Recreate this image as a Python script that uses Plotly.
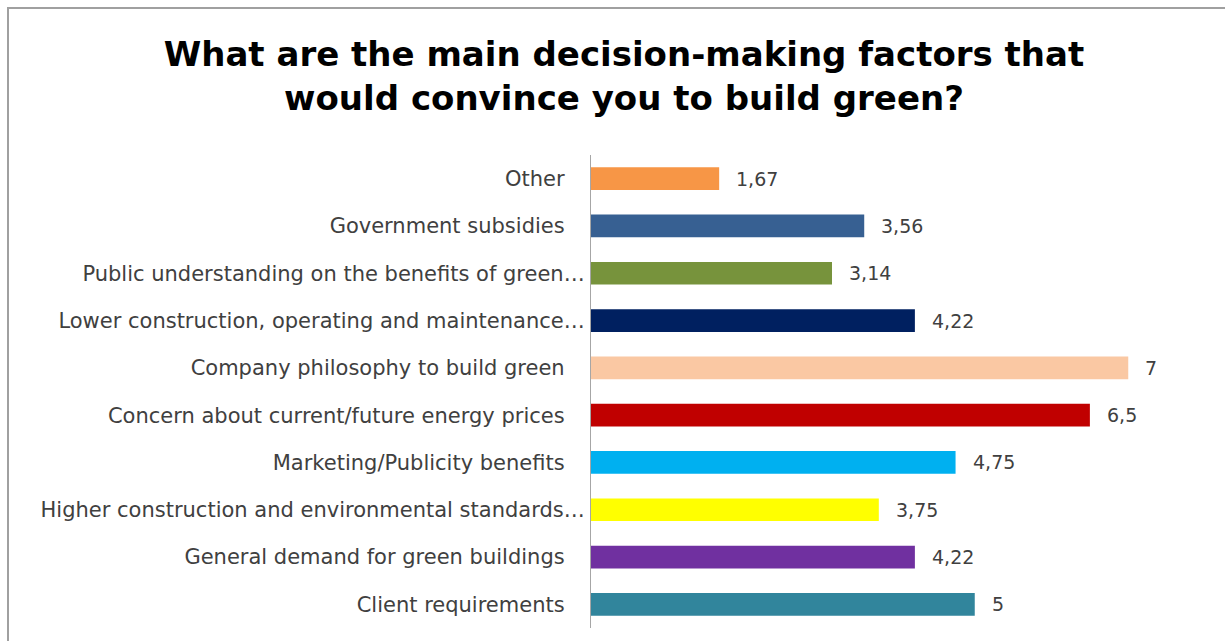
import plotly.graph_objects as go

categories = [
    "Other",
    "Government subsidies",
    "Public understanding on the benefits of green…",
    "Lower construction, operating and maintenance…",
    "Company philosophy to build green",
    "Concern about current/future energy prices",
    "Marketing/Publicity benefits",
    "Higher construction and environmental standards…",
    "General demand for green buildings",
    "Client requirements",
]
values = [1.67, 3.56, 3.14, 4.22, 7, 6.5, 4.75, 3.75, 4.22, 5]
value_labels = ["1,67", "3,56", "3,14", "4,22", "7", "6,5", "4,75", "3,75", "4,22", "5"]
colors = ["#F79646", "#376092", "#77933C", "#002060", "#FAC8A3",
          "#C00000", "#00B0F0", "#FFFF00", "#7030A0", "#31859C"]

W, H = 1225, 641
L, R, T, B = 591, 20, 155, 13
FONT = "DejaVu Sans"

ticktext = [c if c.endswith("…") else c + "\u00a0\u00a0\u00a0" for c in categories]

fig = go.Figure()
fig.add_trace(go.Bar(
    x=values, y=categories, orientation="h",
    marker=dict(color=colors, line=dict(width=0)),
    width=0.48, hoverinfo="skip",
))

for v, c, t in zip(values, categories, value_labels):
    fig.add_annotation(x=v, y=c, text=t, showarrow=False, xanchor="left",
                       xshift=15, font=dict(family=FONT, size=19, color="#404040"))

pw = W - L - R
ph = H - T - B
fig.add_shape(type="rect", xref="paper", yref="paper",
              x0=(8 - L) / pw, x1=(W + 10 - L) / pw,
              y0=-(B + 10) / ph, y1=1 + (T - 8) / ph,
              line=dict(color="#A0A0A0", width=2), fillcolor="rgba(0,0,0,0)", layer="below")

fig.update_layout(
    width=W, height=H,
    margin=dict(l=L, r=R, t=T, b=B),
    paper_bgcolor="white", plot_bgcolor="white",
    showlegend=False,
    title=dict(text="<b>What are the main decision-making factors that<br>would convince you to build green?</b>",
               x=624 / W, xanchor="center", y=1 - 66 / H, yanchor="middle", yref="container",
               font=dict(family=FONT, size=34, color="#000000")),
    xaxis=dict(range=[0, 8], showgrid=False, showticklabels=False, zeroline=False,
               showline=False, ticks=""),
    yaxis=dict(autorange="reversed", tickmode="array", tickvals=categories, ticktext=ticktext,
               showgrid=False, showline=True, linecolor="#A6A6A6", linewidth=1.2,
               ticks="", ticklabelstandoff=1,
               tickfont=dict(family=FONT, size=21, color="#404040")),
)

fig.write_html("out.html")
